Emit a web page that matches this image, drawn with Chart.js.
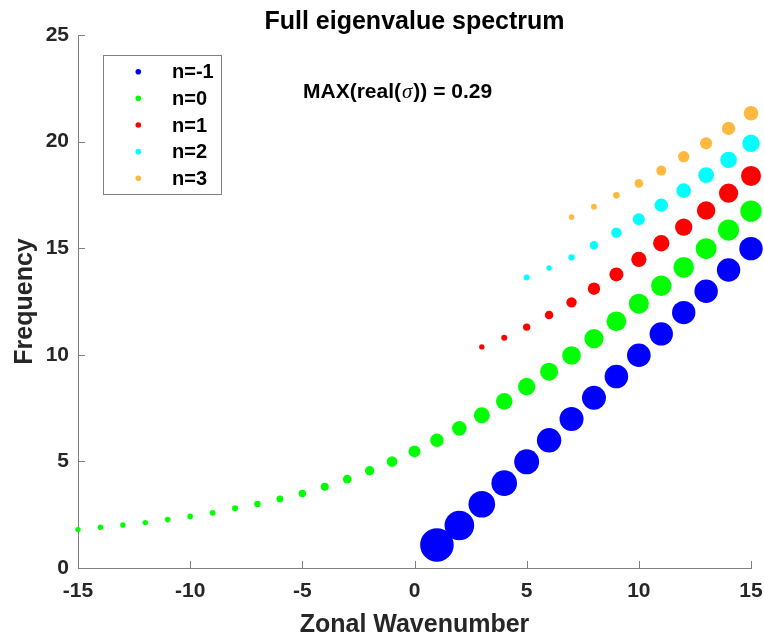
<!DOCTYPE html>
<html>
<head>
<meta charset="utf-8">
<script src="https://cdn.jsdelivr.net/npm/chart.js@4.4.1/dist/chart.umd.min.js"></script>
<style>
  html, body { margin: 0; padding: 0; background: #ffffff; }
  #wrap { width: 764px; height: 636px; position: relative; }
</style>
</head>
<body>
<div id="wrap"><canvas id="c" width="764" height="636"></canvas></div>
<script>
// ---- data ----
const chartTitle = 'Full eigenvalue spectrum';
const xLabel = 'Zonal Wavenumber';
const yLabel = 'Frequency';
const seriesNames = ['n=-1', 'n=0', 'n=1', 'n=2', 'n=3'];

const kNm1 = [1,2,3,4,5,6,7,8,9,10,11,12,13,14,15];
const fNm1 = [1.08,1.99,2.99,3.98,4.98,5.99,6.99,7.98,8.98,9.98,10.98,11.98,12.98,13.98,14.98];
const sNm1 = [16.8,14.8,13.3,12.8,12.5,12.2,12.0,12.0,11.8,11.8,11.7,11.7,11.7,11.7,11.7];

const kN0 = [-15,-14,-13,-12,-11,-10,-9,-8,-7,-6,-5,-4,-3,-2,-1,0,1,2,3,4,5,6,7,8,9,10,11,12,13,14,15];
const fN0 = [1.80,1.91,2.02,2.13,2.27,2.42,2.59,2.80,3.00,3.24,3.50,3.81,4.17,4.56,4.99,5.47,5.99,6.55,7.16,7.82,8.51,9.21,9.97,10.76,11.57,12.40,13.24,14.10,14.98,15.85,16.74];
const sN0 = [2.7,2.7,2.7,2.7,2.8,2.8,2.9,3.0,3.2,3.4,3.7,4.0,4.3,4.7,5.3,6.0,6.7,7.3,8.0,8.3,8.7,9.0,9.3,9.6,9.9,10.0,10.2,10.3,10.5,10.6,10.7];

const kN1 = [3,4,5,6,7,8,9,10,11,12,13,14,15];
const fN1 = [10.37,10.80,11.30,11.87,12.46,13.10,13.77,14.48,15.23,15.99,16.77,17.58,18.39];
const sN1 = [2.7,3.0,3.7,4.3,5.2,6.2,7.0,7.6,8.2,8.7,9.2,9.6,10.0];

const kN2 = [5,6,7,8,9,10,11,12,13,14,15];
const fN2 = [13.62,14.07,14.57,15.14,15.73,16.36,17.02,17.70,18.43,19.14,19.92];
const sN2 = [3.0,2.7,3.2,4.2,5.2,6.0,6.7,7.3,7.9,8.3,8.7];

const kN3 = [7,8,9,10,11,12,13,14,15];
const fN3 = [16.46,16.95,17.48,18.04,18.64,19.29,19.92,20.62,21.33];
const sN3 = [2.8,2.9,3.3,4.3,5.0,5.7,6.1,6.7,7.3];

const maxGrowthLabel = '0.29';
const xTicks = [-15,-10,-5,0,5,10,15];
const yTicks = [0,5,10,15,20,25];

// ---- styles ----
const colors = ['#0000ff', '#00ff00', '#ff0000', '#00ffff', '#ffb840'];
const axisGray = '#808080';
const textDark = '#262626';
const FONT = "'Liberation Sans', Arial, Helvetica, sans-serif";

function pts(k, f, s) { return k.map((x, i) => ({ x: x, y: f[i], r: s[i] })); }
const allK = [kNm1, kN0, kN1, kN2, kN3];
const allF = [fNm1, fN0, fN1, fN2, fN3];
const allS = [sNm1, sN0, sN1, sN2, sN3];

const datasets = seriesNames.map((name, i) => ({
  label: name,
  data: pts(allK[i], allF[i], allS[i]),
  backgroundColor: colors[i],
  borderWidth: 0,
  hoverRadius: 0,
  clip: false
}));

const overlay = {
  id: 'overlay',
  beforeDatasetsDraw(chart) {
    const { ctx, chartArea: a, scales: { x, y } } = chart;
    ctx.save();
    ctx.strokeStyle = axisGray;
    ctx.lineWidth = 1;
    ctx.beginPath();
    xTicks.forEach(v => {
      const px = Math.round(x.getPixelForValue(v)) + 0.5;
      ctx.moveTo(px, a.bottom); ctx.lineTo(px, a.bottom - 7);
    });
    yTicks.forEach(v => {
      const py = Math.round(y.getPixelForValue(v)) + 0.5;
      ctx.moveTo(a.left, py); ctx.lineTo(a.left + 7, py);
    });
    ctx.stroke();
    ctx.restore();
  },
  afterDraw(chart) {
    const { ctx, chartArea: a } = chart;
    ctx.save();
    // title
    ctx.fillStyle = '#000000';
    ctx.font = 'bold 25px ' + FONT;
    ctx.textAlign = 'center';
    ctx.textBaseline = 'alphabetic';
    ctx.fillText(chartTitle, (a.left + a.right) / 2, 29);

    // annotation
    let tx = 303;
    const ty = 98;
    ctx.textAlign = 'left';
    ctx.fillStyle = '#000000';
    const p1 = 'MAX(real(';
    const p2 = '\u03C3';
    const p3 = ')) = ' + maxGrowthLabel;
    ctx.font = 'bold 21px ' + FONT;
    ctx.fillText(p1, tx, ty); tx += ctx.measureText(p1).width;
    ctx.font = "italic 21px 'Liberation Serif', 'Times New Roman', serif";
    ctx.fillText(p2, tx + 1, ty); tx += ctx.measureText(p2).width + 2;
    ctx.font = 'bold 21px ' + FONT;
    ctx.fillText(p3, tx, ty);

    // legend
    const lx = 103.5, ly = 55.5, lw = 118, lh = 139;
    ctx.fillStyle = '#ffffff';
    ctx.fillRect(lx, ly, lw, lh);
    ctx.strokeStyle = axisGray;
    ctx.lineWidth = 1;
    ctx.strokeRect(lx, ly, lw, lh);
    ctx.font = 'bold 20px ' + FONT;
    ctx.textBaseline = 'middle';
    seriesNames.forEach((name, i) => {
      const yy = 71.7 + i * 26.65;
      ctx.fillStyle = colors[i];
      ctx.beginPath();
      ctx.arc(138.3, yy, 2.8, 0, Math.PI * 2);
      ctx.fill();
      ctx.fillStyle = '#000000';
      ctx.fillText(name, 172, yy + 1);
    });
    ctx.restore();
  }
};

new Chart(document.getElementById('c'), {
  type: 'bubble',
  data: { datasets },
  options: {
    responsive: false,
    animation: false,
    events: [],
    layout: { autoPadding: false, padding: { top: 35, right: 13, left: 0, bottom: 0 } },
    plugins: {
      legend: { display: false },
      title: { display: false },
      tooltip: { enabled: false }
    },
    scales: {
      x: {
        type: 'linear',
        min: -15, max: 15,
        afterFit(s) { s.height = 68; s.paddingLeft = 0; s.paddingRight = 0; },
        afterBuildTicks(s) { s.ticks = xTicks.map(v => ({ value: v })); },
        grid: { display: false, drawTicks: false },
        border: { display: true, color: axisGray, width: 1 },
        ticks: { padding: 11, color: textDark, font: { family: FONT, size: 21, weight: 'bold' } },
        title: { display: true, text: xLabel, color: textDark, padding: { top: 0, bottom: 0 },
                 font: { family: FONT, size: 25, weight: 'bold', lineHeight: 0.9 } }
      },
      y: {
        type: 'linear',
        min: 0, max: 25,
        afterFit(s) { s.width = 78; s.paddingTop = 0; s.paddingBottom = 0; },
        afterBuildTicks(s) { s.ticks = yTicks.map(v => ({ value: v })); },
        grid: { display: false, drawTicks: false },
        border: { display: true, color: axisGray, width: 1 },
        ticks: { padding: 9, color: textDark, font: { family: FONT, size: 21, weight: 'bold' } },
        title: { display: true, text: yLabel, color: textDark, padding: { top: 10, bottom: 0 },
                 font: { family: FONT, size: 25, weight: 'bold', lineHeight: 1.2 } }
      }
    }
  },
  plugins: [overlay]
});
</script>
</body>
</html>
